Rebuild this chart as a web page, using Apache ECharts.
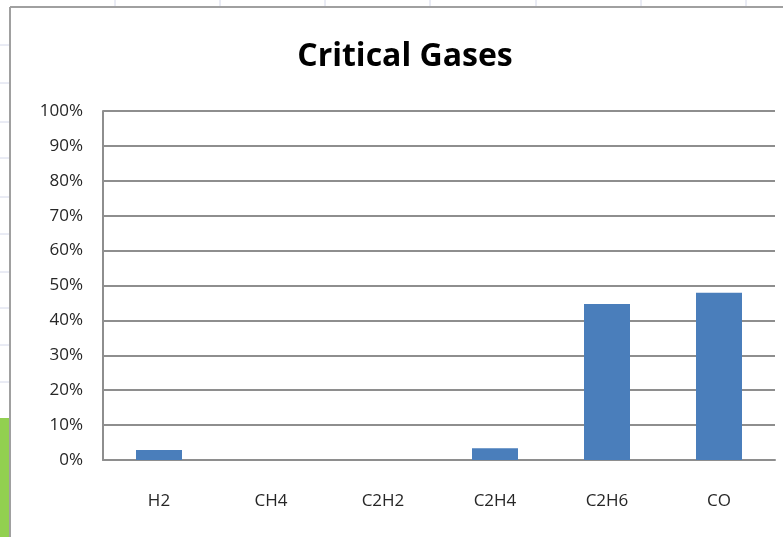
<!DOCTYPE html>
<html>
<head>
<meta charset="utf-8">
<script src="https://cdn.jsdelivr.net/npm/echarts@6/dist/echarts.min.js"></script>
<style>
html,body{margin:0;padding:0;background:#fff;}
#chart{width:783px;height:537px;}
</style>
</head>
<body>
<div id="chart"></div>
<script>
const categories = ['H2', 'CH4', 'C2H2', 'C2H4', 'C2H6', 'CO'];
const values = [0.029, 0, 0, 0.034, 0.447, 0.479];
const yTicks = [0, 0.1, 0.2, 0.3, 0.4, 0.5, 0.6, 0.7, 0.8, 0.9, 1.0];

const sheetCols = [115, 220, 325, 430, 536, 641, 746];
const sheetRows = [45, 83, 122, 158, 197, 234, 272, 308, 345, 382];

const graphics = [];
sheetCols.forEach(x => graphics.push({type:'line', shape:{x1:x,y1:0,x2:x,y2:7}, style:{stroke:'#d4d8ea', lineWidth:1}, z:-10}));
sheetRows.forEach(y => graphics.push({type:'line', shape:{x1:0,y1:y,x2:9,y2:y}, style:{stroke:'#d4d8ea', lineWidth:1}, z:-10}));
graphics.push({type:'rect', shape:{x:0,y:418,width:9,height:119}, style:{fill:'#92d050'}, z:-10});
graphics.push({type:'line', shape:{x1:10,y1:7,x2:783,y2:7}, style:{stroke:'#a0a0a0', lineWidth:2}, z:-5});
graphics.push({type:'line', shape:{x1:10,y1:7,x2:10,y2:537}, style:{stroke:'#a0a0a0', lineWidth:2}, z:-5});

const chart = echarts.init(document.getElementById('chart'), null, {renderer:'canvas'});
chart.setOption({
  backgroundColor: '#ffffff',
  animation: false,
  graphic: graphics,
  title: {
    text: 'Critical Gases',
    left: 400, top: 36, textAlign: 'center',
    textStyle: {fontFamily: '"Open Sans", sans-serif', fontWeight: 'bold', fontSize: 32, color: '#000'}
  },
  grid: {left: 103, right: 8, top: 111, bottom: 77, containLabel: false},
  xAxis: {
    type: 'category',
    data: categories,
    axisLine: {show: true, lineStyle: {color: '#8e8e8e', width: 2}},
    axisTick: {show: false},
    axisLabel: {margin: 33, fontSize: 17, color: '#262626', fontFamily: '"Open Sans", sans-serif'}
  },
  yAxis: {
    type: 'value',
    min: yTicks[0], max: yTicks[yTicks.length - 1], interval: 0.1,
    axisLine: {show: true, lineStyle: {color: '#8e8e8e', width: 2}},
    axisTick: {show: false},
    splitLine: {show: true, lineStyle: {color: '#8e8e8e', width: 2}},
    axisLabel: {
      margin: 20, fontSize: 17, color: '#262626', fontFamily: '"Open Sans", sans-serif',
      formatter: v => Math.round(v * 100) + '%'
    }
  },
  series: [{
    type: 'bar',
    data: values,
    barWidth: 46,
    itemStyle: {color: '#4a7ebb', borderWidth: 0}
  }]
});
</script>
</body>
</html>
